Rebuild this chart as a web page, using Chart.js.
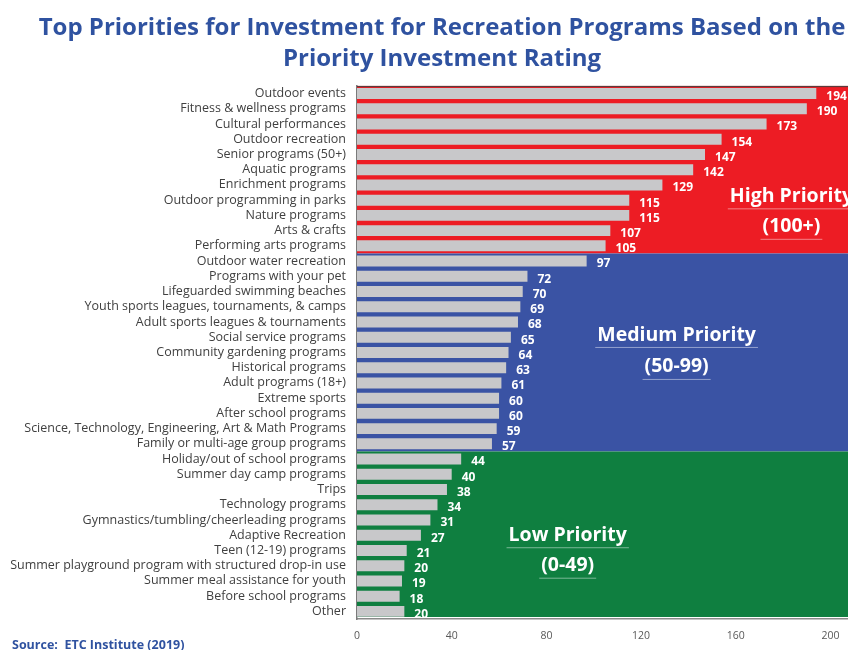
<!DOCTYPE html>
<html>
<head>
<meta charset="utf-8">
<title>Top Priorities for Investment for Recreation Programs</title>
<script src="https://cdn.jsdelivr.net/npm/chart.js@4.4.1/dist/chart.umd.min.js"></script>
<style>
  html, body { margin: 0; padding: 0; background: #ffffff; overflow: hidden; }
  #wrap { position: relative; width: 884px; height: 650px; }
  #chart { display: block; }
</style>
</head>
<body>
<!-- canvas is wider than the viewport: the plot's right edge runs off-page -->
<div id="wrap"><canvas id="chart" width="884" height="650"></canvas></div>
<script>
// Programs, ordered as ranked
const programs = [
  'Outdoor events',
  'Fitness & wellness programs',
  'Cultural performances',
  'Outdoor recreation',
  'Senior programs (50+)',
  'Aquatic programs',
  'Enrichment programs',
  'Outdoor programming in parks',
  'Nature programs',
  'Arts & crafts',
  'Performing arts programs',
  'Outdoor water recreation',
  'Programs with your pet',
  'Lifeguarded swimming beaches',
  'Youth sports leagues, tournaments, & camps',
  'Adult sports leagues & tournaments',
  'Social service programs',
  'Community gardening programs',
  'Historical programs',
  'Adult programs (18+)',
  'Extreme sports',
  'After school programs',
  'Science, Technology, Engineering, Art & Math Programs',
  'Family or multi-age group programs',
  'Holiday/out of school programs',
  'Summer day camp programs',
  'Trips',
  'Technology programs',
  'Gymnastics/tumbling/cheerleading programs',
  'Adaptive Recreation',
  'Teen (12-19) programs',
  'Summer playground program with structured drop-in use',
  'Summer meal assistance for youth',
  'Before school programs',
  'Other'
];

// Priority Investment Rating for each program
const ratings = [194, 190, 173, 154, 147, 142, 129, 115, 115, 107, 105,
                 97, 72, 70, 69, 68, 65, 64, 63, 61, 60, 60, 59, 57,
                 44, 40, 38, 34, 31, 27, 21, 20, 19, 18, 20];

// Priority tiers: lower bound of each tier, and its caption
const tierMins   = [100, 50, 0];
const tierNames  = ['High Priority', 'Medium Priority', 'Low Priority'];
const tierRanges = ['(100+)', '(50-99)', '(0-49)'];
const tierColors = ['#ED1C24', '#3A53A4', '#0F7F40'];

// Axis tick values
const axisTicks = [0, 40, 80, 120, 160, 200];

const titleLines = ['Top Priorities for Investment for Recreation Programs Based on the',
                    'Priority Investment Rating'];
const sourceNote = 'Source:  ETC Institute (2019)';

const FONT = "'Open Sans', Lato, sans-serif";

function tierOf(v) {
  for (let t = 0; t < tierMins.length; t++) if (v >= tierMins[t]) return t;
  return tierMins.length - 1;
}

// Contiguous runs of programs that fall in the same tier
function tierRuns() {
  const runs = [];
  ratings.forEach((v, i) => {
    const t = tierOf(v);
    const last = runs[runs.length - 1];
    if (last && last.tier === t) last.end = i;
    else runs.push({ tier: t, start: i, end: i });
  });
  return runs;
}

// Tier caption placement (value on x, fractional row on y)
const captionSpots = [
  { x: 183.5, row1: 6.75,  row2: 8.75 },
  { x: 135,   row1: 15.85, row2: 17.95 },
  { x: 89,    row1: 29.0,  row2: 31.0 }
];

const tierBands = {
  id: 'tierBands',
  beforeDatasetsDraw(chart) {
    const { ctx, chartArea, scales: { y } } = chart;
    ctx.save();
    tierRuns().forEach(run => {
      const top = Math.max(chartArea.top, y.getPixelForValue(run.start - 0.5));
      let bottom = Math.min(chartArea.bottom, y.getPixelForValue(run.end + 0.5));
      if (run.end === ratings.length - 1) bottom = chartArea.bottom - 2;
      ctx.fillStyle = tierColors[run.tier];
      ctx.fillRect(chartArea.left, top, chartArea.right - chartArea.left, bottom - top);
    });
    // dark edge along the top of the plot
    ctx.fillStyle = '#5b3b3b';
    ctx.fillRect(chartArea.left, chartArea.top, chartArea.right - chartArea.left, 1.2);
    ctx.restore();
  },
  afterDatasetsDraw(chart) {
    const { ctx, scales: { x, y } } = chart;
    const meta = chart.getDatasetMeta(0);
    ctx.save();
    // value labels
    ctx.fillStyle = '#ffffff';
    ctx.font = 'bold 12px ' + FONT;
    ctx.textAlign = 'left';
    ctx.textBaseline = 'middle';
    meta.data.forEach((bar, i) => {
      ctx.fillText(String(ratings[i]), bar.x + 10, bar.y + 3);
    });
    // tier captions with a faint underline
    ctx.font = 'bold 19.5px ' + FONT;
    ctx.textAlign = 'center';
    ctx.textBaseline = 'middle';
    captionSpots.forEach((spot, t) => {
      const cx = x.getPixelForValue(spot.x);
      [[tierNames[t], spot.row1], [tierRanges[t], spot.row2]].forEach(([txt, row]) => {
        const cy = y.getPixelForValue(row);
        ctx.fillStyle = '#ffffff';
        ctx.fillText(txt, cx, cy);
        const w = ctx.measureText(txt).width;
        ctx.fillStyle = 'rgba(255,255,255,0.45)';
        ctx.fillRect(cx - w / 2 - 2, cy + 12, w + 4, 1);
      });
    });
    ctx.restore();
  },
  afterDraw(chart) {
    const { ctx } = chart;
    ctx.save();
    ctx.fillStyle = '#2F52A0';
    ctx.font = 'bold 12.5px ' + FONT;
    ctx.textAlign = 'left';
    ctx.textBaseline = 'middle';
    ctx.fillText(sourceNote, 12, 645);
    ctx.restore();
  }
};

new Chart(document.getElementById('chart'), {
  type: 'bar',
  data: {
    labels: programs,
    datasets: [{
      data: ratings,
      backgroundColor: '#C8C8CA',
      borderWidth: 0,
      barPercentage: 0.72,
      categoryPercentage: 1.0
    }]
  },
  options: {
    indexAxis: 'y',
    responsive: false,
    animation: false,
    devicePixelRatio: 1,
    layout: { padding: { left: 0, right: 0, top: 0, bottom: 8 } },
    plugins: {
      legend: { display: false },
      tooltip: { enabled: false },
      title: {
        display: true,
        text: titleLines,
        color: '#2F52A0',
        font: { family: FONT, size: 24, weight: 'bold', lineHeight: 1.29 },
        padding: { top: 12.5, bottom: 11.5 }
      }
    },
    scales: {
      x: {
        type: 'linear',
        min: 0,
        max: 222.6,
        afterBuildTicks(scale) {
          scale.ticks = axisTicks.map(v => ({ value: v }));
        },
        afterFit(scale) { scale.height = 23; },
        grid: { display: false, drawTicks: false },
        border: { display: true, color: '#8a8a8a', width: 1.5 },
        ticks: {
          padding: 11,
          color: '#595959',
          font: { family: FONT, size: 10.5 }
        }
      },
      y: {
        afterFit(scale) { scale.width = 357; },
        grid: { display: false, drawTicks: false },
        border: { display: true, color: '#7a7a7a', width: 1.5 },
        ticks: {
          padding: 11,
          autoSkip: false,
          color: '#404040',
          font: { family: FONT, size: 12.5 }
        }
      }
    }
  },
  plugins: [tierBands]
});
</script>
</body>
</html>
